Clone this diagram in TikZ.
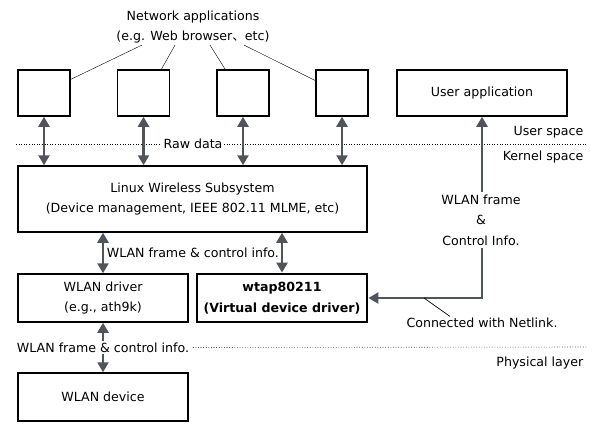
\documentclass[tikz,border=0pt]{standalone}
\usepackage{fontspec}
\setmainfont{DejaVu Sans}
\newfontfamily\cjk{Noto Sans CJK JP}
\usetikzlibrary{arrows.meta}
\definecolor{arrgray}{HTML}{50555B}
\begin{document}
\begin{tikzpicture}[
  x=1pt,y=-1pt,
  every node/.style={font=\fontsize{12.6}{20.5}\selectfont},
  box/.style={draw,line width=1.5pt,inner sep=2pt,align=center},
  app/.style={box,minimum width=52pt,minimum height=46pt},
  wide/.style={box,minimum width=170pt,minimum height=48pt},
  thk/.style={wide,line width=2.8pt,font=\fontsize{12.6}{20.5}\selectfont\bfseries},
  arr/.style={draw=arrgray,line width=2.7pt,{Triangle[length=10pt,width=11pt]}-{Triangle[length=10pt,width=11pt]}},
  sep/.style={draw,dotted,line width=0.6pt},
  lbl/.style={inner sep=1.5pt,align=center}]
\useasboundingbox (0,0) rectangle (596,423);

% ---- user space ----
\node[lbl] (apps) at (193,27) {Network applications\\(e.g. Web browser{\cjk 、}etc)};
\node[app] (b1) at (44,93)    {};
\node[app] (b2) at (143.5,93) {};
\node[app] (b3) at (243,93)   {};
\node[app] (b4) at (342,93)   {};
\node[box,minimum width=170pt,minimum height=46pt] (uapp) at (482,93) {User application};
\draw ([xshift=-51pt]apps.south) -- (b1.27);
\draw ([xshift=-18pt]apps.south) -- (b2.53);
\draw ([xshift=17pt]apps.south)  -- (b3.127);
\draw ([xshift=51pt]apps.south)  -- (b4.155);

% ---- kernel space ----
\coordinate (s1a) at (16,144);
\coordinate (s1b) at (587,144);
\draw[sep] (s1a) -- (s1b);
\node[lbl,anchor=east] (uspc) at (585,132) {User space};
\node[lbl,anchor=east] (kspc) at (585,157) {Kernel space};
\node[box,minimum width=349pt,minimum height=66pt] (lws) at (192.5,199)
  {Linux Wireless Subsystem\\(Device management, IEEE 802.11 MLME, etc)};
\foreach \b in {b1,b2,b3,b4} \draw[arr] (\b.south) -- (\b.south |- lws.north);
\node[lbl,fill=white] (raw) at (193,144) {Raw data};

\node[wide] (drv)  at (103,298) {WLAN driver\\(e.g., ath9k)};
\node[thk]  (wtap) at (282,298) {wtap80211\\(Virtual device driver)};
\draw[arr] (drv.north |- lws.south) -- node[lbl,right=1pt] (fr1) {WLAN frame \& control info.} (drv.north);
\draw[arr] (wtap.north |- lws.south) -- (wtap.north);

% ---- netlink path ----
\draw[arr] (uapp.south) |- (wtap.east);
\node[lbl,fill=white,inner sep=3pt] (fr2) at (481,220) {WLAN frame\\\&\\Control Info.};
\node[lbl] (nl) at (482,323) {Connected with Netlink.};
\coordinate (nlp) at (424,298);
\draw[line width=0.7pt] (nlp) -- ([xshift=-32pt]nl.north);

% ---- physical layer ----
\node[wide] (dev) at (103,397) {WLAN device};
\draw[arr] (drv.south) -- node[lbl,fill=white] (fr3) {WLAN frame \& control info.} (dev.north);
\coordinate (s2b) at (587,347);
\draw[sep] ([xshift=1pt]fr3.east) -- (s2b);
\node[lbl,anchor=east] (phys) at (585,363) {Physical layer};
\end{tikzpicture}
\end{document}
